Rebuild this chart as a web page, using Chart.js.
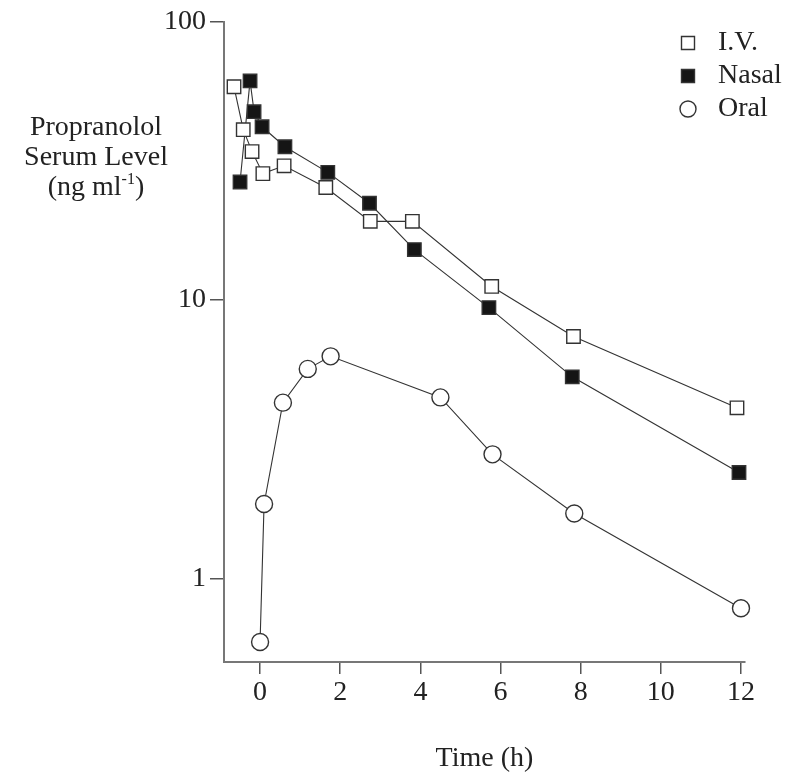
<!DOCTYPE html>
<html lang="en">
<head>
<meta charset="UTF-8">
<title>Propranolol Serum Level</title>
<script src="https://cdn.jsdelivr.net/npm/chart.js"></script>
<style>
  body { margin: 0; background: #fff; }
  #wrap { position: relative; width: 800px; height: 779px; }
</style>
</head>
<body>
<div id="wrap"><canvas id="chart" width="800" height="779"></canvas></div>
<script>
// values (time in h, serum level in ng/ml)
const ivTime = [-0.65, -0.42, -0.2, 0.07, 0.6, 1.64, 2.75, 3.8, 5.78, 7.82, 11.9];
const ivLevel = [58.5, 41.0, 34.2, 28.5, 30.4, 25.4, 19.2, 19.2, 11.2, 7.4, 4.1];
const nasalTime = [-0.5, -0.25, -0.15, 0.05, 0.62, 1.69, 2.73, 3.85, 5.71, 7.79, 11.95];
const nasalLevel = [26.6, 61.4, 47.6, 42.0, 35.6, 28.8, 22.3, 15.2, 9.4, 5.3, 2.4];
const oralTime = [0, 0.1, 0.57, 1.19, 1.76, 4.5, 5.8, 7.84, 12.0];
const oralLevel = [0.59, 1.85, 4.28, 5.66, 6.28, 4.47, 2.79, 1.71, 0.78];

const xTicks = [0, 2, 4, 6, 8, 10, 12];
const yTicks = [1, 10, 100];

const FAMILY = '"Liberation Serif", "Times New Roman", serif';
const INK = '#222';

function pairs(xs, ys) {
  return xs.map((x, i) => ({ x: x, y: ys[i] }));
}

function series(label, xs, ys, style, fill) {
  return {
    label: label,
    data: pairs(xs, ys),
    showLine: true,
    borderColor: '#333',
    borderWidth: 1.1,
    pointStyle: style,
    pointRadius: style === 'rect' ? 9.5 : 8.5,
    pointBackgroundColor: fill,
    pointBorderColor: '#333',
    pointBorderWidth: 1.4,
    tension: 0,
    clip: false
  };
}

// y axis title and the legend in the top right corner
const overlay = {
  id: 'overlay',
  afterDraw(chart) {
    const ctx = chart.ctx;
    ctx.save();
    ctx.fillStyle = INK;
    ctx.font = '28px ' + FAMILY;
    ctx.textBaseline = 'middle';
    ctx.textAlign = 'center';
    ctx.fillText('Propranolol', 96, 128);
    ctx.fillText('Serum Level', 96, 158);

    // "(ng ml-1)" with a raised -1
    const a = '(ng ml', sup = '-1', b = ')';
    ctx.textAlign = 'left';
    const wa = ctx.measureText(a).width, wb = ctx.measureText(b).width;
    ctx.font = '16px ' + FAMILY;
    const ws = ctx.measureText(sup).width;
    let x = 96 - (wa + ws + wb) / 2;
    ctx.font = '28px ' + FAMILY;
    ctx.fillText(a, x, 188);
    ctx.font = '16px ' + FAMILY;
    ctx.fillText(sup, x + wa, 180);
    ctx.font = '28px ' + FAMILY;
    ctx.fillText(b, x + wa + ws, 188);

    // legend
    chart.data.datasets.forEach((ds, i) => {
      const cy = 43 + i * 33, cx = 688;
      ctx.lineWidth = 1.4;
      ctx.strokeStyle = ds.pointBorderColor;
      ctx.fillStyle = ds.pointBackgroundColor;
      ctx.beginPath();
      if (ds.pointStyle === 'rect') {
        ctx.rect(cx - 6.5, cy - 6.5, 13, 13);
      } else {
        ctx.arc(cx, cy, 8, 0, Math.PI * 2);
      }
      ctx.fill();
      ctx.stroke();
      ctx.fillStyle = INK;
      ctx.font = '28px ' + FAMILY;
      ctx.fillText(ds.label, 718, cy);
    });
    ctx.restore();
  }
};

const axisFont = { family: FAMILY, size: 28 };

new Chart(document.getElementById('chart'), {
  type: 'scatter',
  data: {
    datasets: [
      series('I.V.', ivTime, ivLevel, 'rect', '#fff'),
      series('Nasal', nasalTime, nasalLevel, 'rect', '#151515'),
      series('Oral', oralTime, oralLevel, 'circle', '#fff')
    ]
  },
  options: {
    responsive: false,
    animation: false,
    layout: { padding: { top: 22, right: 55, left: 0, bottom: 0 } },
    plugins: {
      legend: { display: false },
      tooltip: { enabled: false }
    },
    scales: {
      x: {
        type: 'linear',
        min: -0.9,
        max: 12.1,
        afterBuildTicks: s => { s.ticks = xTicks.map(v => ({ value: v })); },
        afterFit: s => { s.height = 117; },
        grid: { drawOnChartArea: false, drawTicks: true, tickLength: 12, color: '#555', lineWidth: 1.5 },
        border: { color: '#777', width: 2 },
        ticks: { font: axisFont, color: INK, padding: 2, maxRotation: 0, autoSkip: false },
        title: { display: true, text: 'Time (h)', font: axisFont, color: INK, padding: { top: 0, bottom: 4 } }
      },
      y: {
        type: 'logarithmic',
        min: 0.5,
        max: 100,
        afterBuildTicks: s => { s.ticks = yTicks.map(v => ({ value: v })); },
        afterFit: s => { s.width = 224; },
        grid: { drawOnChartArea: false, drawTicks: true, tickLength: 14, color: '#555', lineWidth: 1.5 },
        border: { color: '#777', width: 2 },
        ticks: { font: axisFont, color: INK, padding: 4, autoSkip: false, callback: v => String(v) }
      }
    }
  },
  plugins: [overlay]
});
</script>
</body>
</html>
